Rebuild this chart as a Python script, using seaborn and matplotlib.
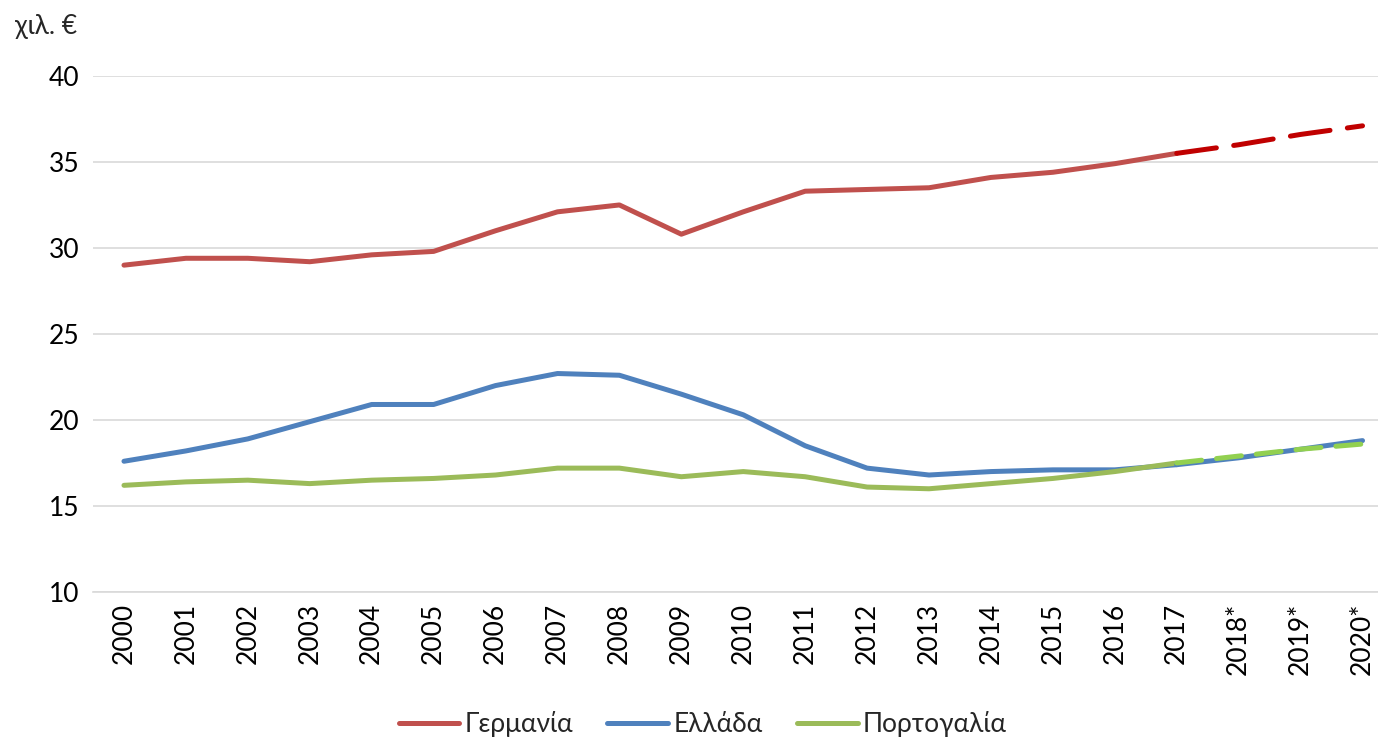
import pandas as pd
import seaborn as sns
import matplotlib.pyplot as plt
from matplotlib.lines import Line2D

# Δεδομένα (χιλ. €)
years = ['2000', '2001', '2002', '2003', '2004', '2005', '2006', '2007', '2008', '2009',
         '2010', '2011', '2012', '2013', '2014', '2015', '2016', '2017', '2018*', '2019*', '2020*']
germany = [29.0, 29.4, 29.4, 29.2, 29.6, 29.8, 31.0, 32.1, 32.5, 30.8,
           32.1, 33.3, 33.4, 33.5, 34.1, 34.4, 34.9, 35.5, 36.0, 36.6, 37.1]
greece = [17.6, 18.2, 18.9, 19.9, 20.9, 20.9, 22.0, 22.7, 22.6, 21.5,
          20.3, 18.5, 17.2, 16.8, 17.0, 17.1, 17.1, 17.4, 17.8, 18.3, 18.8]
portugal = [16.2, 16.4, 16.5, 16.3, 16.5, 16.6, 16.8, 17.2, 17.2, 16.7,
            17.0, 16.7, 16.1, 16.0, 16.3, 16.6, 17.0, 17.5, 17.9, 18.3, 18.6]
names = ['Γερμανία', 'Ελλάδα', 'Πορτογαλία']
colors = ['#C0504D', '#4F81BD', '#9BBB59']
first_forecast = years.index('2017')

df = pd.DataFrame({'year': years, 'Γερμανία': germany, 'Ελλάδα': greece, 'Πορτογαλία': portugal})

sns.set_style('white')
plt.rcParams['font.family'] = ['Lato', 'DejaVu Sans']

fig = plt.figure(figsize=(13.78, 7.52), dpi=100)
ax = fig.add_axes([0.0675, 0.2128, 0.9325, 0.6862])

lw = 3.6
for name, col in zip(names, colors):
    sns.lineplot(data=df.iloc[:first_forecast + 1], x='year', y=name, color=col,
                 linewidth=lw, ax=ax, solid_capstyle='round')

# Προβλέψεις
fc = df.iloc[first_forecast:]
sns.lineplot(data=fc, x='year', y='Ελλάδα', color='#4F81BD', linewidth=lw, ax=ax,
             solid_capstyle='round')
sns.lineplot(data=fc, x='year', y='Γερμανία', color='#C00000', linewidth=lw, ax=ax,
             dashes=False, linestyle=(0, (8, 3.5)), dash_capstyle='round')
sns.lineplot(data=fc, x='year', y='Πορτογαλία', color='#92D050', linewidth=lw, ax=ax,
             dashes=False, linestyle=(0, (5, 3)), dash_capstyle='round')

ax.set_xlim(-0.5, 20.25)
ax.set_ylim(10, 40)
ax.set_yticks(range(10, 41, 5))
ax.yaxis.grid(True, color='#D9D9D9', linewidth=1.2)
ax.set_axisbelow(True)
for s in ['top', 'right', 'left']:
    ax.spines[s].set_visible(False)
ax.spines['bottom'].set_color('#D9D9D9')
ax.spines['bottom'].set_linewidth(1.2)
ax.tick_params(axis='both', length=0, labelsize=19, colors='black', pad=10)
ax.tick_params(axis='x', labelrotation=90, pad=8)
ax.set_xlabel('')
ax.set_ylabel('')

fig.text(0.011, 0.965, 'χιλ. €', fontsize=19, va='center', ha='left')

handles = [Line2D([0], [0], color=c, linewidth=lw, solid_capstyle='round') for c in colors]
fig.legend(handles, names, loc='lower center', bbox_to_anchor=(0.51, -0.012), ncol=3,
           frameon=False, fontsize=19, handlelength=2.3, handletextpad=0.2, columnspacing=1.3)

plt.savefig('out.png', dpi=100)
